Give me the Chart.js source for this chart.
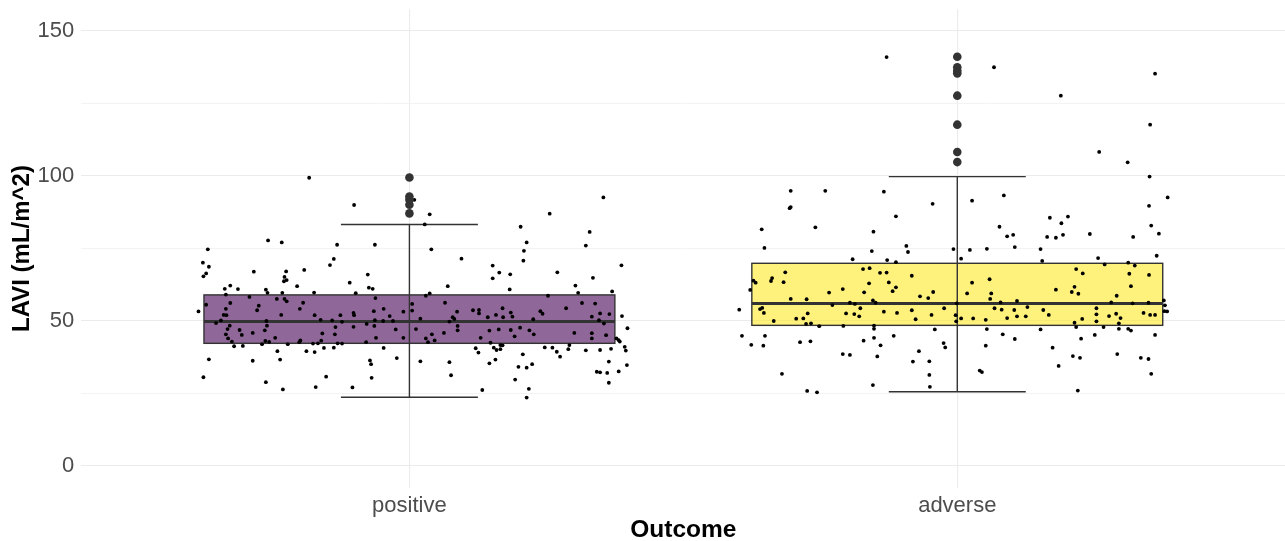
<!DOCTYPE html>
<html>
<head>
<meta charset="utf-8">
<script src="https://cdn.jsdelivr.net/npm/chart.js@4/dist/chart.umd.min.js"></script>
<style>
  html, body { margin: 0; padding: 0; background: #ffffff; overflow: hidden; }
  #wrap { width: 1286px; height: 541px; }
</style>
</head>
<body>
<div id="wrap"><canvas id="c" width="1286" height="541"></canvas></div>
<script>
// Outcome groups and the y-axis breaks
const categories = ['positive', 'adverse'];
const yBreaks = [0, 25, 50, 75, 100, 125, 150];
const yLabelledBreaks = [0, 50, 100, 150];

// Five-number summaries (LAVI, mL/m^2)
const whiskerLow = [23.7, 25.6];
const lowerQuartile = [42.3, 48.5];
const medianValue = [49.8, 56.0];
const upperQuartile = [59.0, 69.9];
const whiskerHigh = [83.3, 99.8];

// Values beyond the whiskers
const outliersPositive = [87.1, 90.1, 91.8, 92.9, 99.5];
const outliersAdverse = [104.8, 108.3, 117.7, 127.7, 135.4, 136.3, 137.5, 141.1];

// Individual patients: [horizontal jitter, LAVI]
const patientsPositive = [
  [-0.183, 99.4], [-0.101, 90.0], [-0.368, 74.7], [-0.377, 70.1], [-0.366, 68.7], [-0.371, 66.4],
  [-0.376, 65.4], [-0.258, 77.8], [-0.233, 77.1], [-0.132, 76.3], [-0.063, 76.3], [-0.138, 71.4],
  [-0.145, 69.3], [-0.284, 67.0], [-0.225, 67.1], [-0.192, 67.6], [-0.228, 65.2], [-0.224, 64.1],
  [-0.229, 63.7], [-0.076, 66.0], [-0.109, 63.2], [-0.205, 62.0], [-0.337, 61.1], [-0.327, 62.2],
  [-0.313, 61.0], [-0.262, 60.8], [-0.259, 59.7], [-0.232, 59.7], [-0.174, 59.8], [-0.098, 59.6],
  [-0.074, 61.5], [-0.067, 61.1], [-0.335, 59.1], [-0.292, 58.3], [-0.242, 57.6], [-0.228, 57.6],
  [-0.062, 57.9],
  [-0.371, 55.6], [-0.385, 53.3], [-0.335, 54.2], [-0.327, 56.2], [-0.275, 55.3], [-0.278, 53.7],
  [-0.224, 56.8], [-0.339, 52.1], [-0.334, 52.0], [-0.234, 52.1], [-0.200, 54.2], [-0.194, 56.3],
  [-0.173, 52.0], [-0.162, 50.4], [-0.141, 50.2], [-0.126, 52.0], [-0.123, 49.7], [-0.102, 52.8],
  [-0.101, 52.0], [-0.065, 53.4], [-0.047, 54.2], [-0.036, 51.7], [-0.011, 53.2], [-0.063, 50.3],
  [-0.048, 50.0], [-0.030, 50.0], [-0.078, 49.0], [-0.064, 48.3], [-0.102, 48.0], [-0.135, 47.9],
  [-0.353, 49.3], [-0.344, 50.2], [-0.328, 48.4], [-0.332, 47.2], [-0.260, 48.4], [-0.261, 50.0],
  [-0.310, 46.9], [-0.286, 45.9], [-0.264, 46.8], [-0.335, 45.4], [-0.306, 45.2], [-0.331, 44.0],
  [-0.324, 42.9], [-0.245, 44.2], [-0.263, 43.1], [-0.256, 42.8], [-0.199, 43.3], [-0.201, 42.7],
  [-0.159, 45.7], [-0.136, 45.4], [-0.161, 43.2], [-0.176, 42.2], [-0.167, 42.3], [-0.131, 42.3],
  [-0.123, 42.2], [-0.079, 42.7], [-0.061, 44.2], [-0.025, 47.1], [-0.011, 44.2], [-0.320, 41.3],
  [-0.304, 41.4], [-0.269, 42.0], [-0.222, 42.0], [-0.241, 39.6], [-0.188, 39.6], [-0.173, 39.3],
  [-0.156, 40.7], [-0.138, 40.8], [-0.047, 40.7], [-0.366, 36.8], [-0.286, 36.3], [-0.236, 36.7],
  [-0.072, 36.4], [-0.070, 35.1], [-0.023, 37.2], [-0.376, 30.6], [-0.262, 28.9], [-0.231, 26.4],
  [-0.152, 30.8], [-0.171, 27.2], [-0.104, 27.1], [-0.069, 30.4],
  [0.009, 91.8], [0.037, 86.8], [0.028, 83.3], [0.040, 74.7], [0.095, 71.5], [0.152, 69.1],
  [0.152, 64.7], [0.164, 66.7], [0.184, 66.1], [0.183, 60.9], [0.070, 62.0], [0.037, 59.5],
  [0.030, 58.7], [0.203, 82.5], [0.214, 77.1], [0.209, 74.2], [0.208, 70.8], [0.256, 87.0],
  [0.270, 66.8], [0.253, 58.7], [0.354, 92.6], [0.329, 80.7], [0.322, 76.0], [0.335, 64.9],
  [0.303, 62.2], [0.308, 59.7], [0.370, 60.2], [0.387, 69.2],
  [0.005, 55.9], [0.005, 53.6], [0.065, 56.3], [0.087, 53.2], [0.116, 53.7], [0.127, 53.8],
  [0.127, 52.6], [0.170, 54.4], [0.185, 52.9], [0.158, 52.1], [0.143, 51.3], [0.171, 51.3],
  [0.188, 51.5], [0.239, 53.4], [0.243, 52.5], [0.286, 54.4], [0.315, 56.2], [0.339, 56.0],
  [0.333, 51.5], [0.348, 52.6], [0.365, 52.4], [0.346, 50.3], [0.355, 49.1], [0.020, 50.8],
  [0.073, 49.8], [0.079, 51.3], [0.082, 50.7], [0.088, 48.3], [0.088, 46.8], [0.226, 50.6],
  [0.012, 47.2], [0.063, 45.9], [0.041, 45.4], [0.030, 44.0], [0.046, 43.3], [0.034, 42.7],
  [0.146, 46.7], [0.163, 47.1], [0.185, 46.9], [0.202, 47.7], [0.219, 46.8], [0.227, 45.4],
  [0.192, 44.7], [0.130, 44.2], [0.148, 42.5], [0.301, 45.9], [0.333, 45.8], [0.333, 44.0],
  [0.359, 45.1], [0.166, 41.7], [0.170, 41.6], [0.121, 40.6], [0.126, 39.1], [0.154, 40.8],
  [0.159, 40.0], [0.166, 40.3], [0.247, 40.9], [0.261, 40.8], [0.269, 39.4], [0.275, 37.7],
  [0.290, 40.3], [0.292, 41.7], [0.322, 39.9], [0.348, 40.0], [0.368, 40.4], [0.378, 44.0],
  [0.382, 43.4], [0.384, 42.9], [0.388, 51.7], [0.398, 47.5], [0.393, 41.1], [0.395, 39.8],
  [0.020, 36.1], [0.073, 35.8], [0.076, 31.3], [0.146, 35.4], [0.157, 36.7], [0.207, 38.5],
  [0.199, 34.2], [0.214, 33.9], [0.224, 35.1], [0.193, 29.8], [0.133, 26.2], [0.218, 26.6],
  [0.214, 23.6], [0.364, 36.0], [0.342, 32.5], [0.348, 32.3], [0.361, 32.1], [0.382, 32.6],
  [0.364, 28.7], [0.397, 34.8]
];

const patientsAdverse = [
  [-0.129, 141.0], [-0.304, 94.9], [-0.241, 94.9], [-0.134, 94.6], [-0.304, 89.3], [-0.306, 88.9],
  [-0.045, 90.4], [-0.112, 86.1], [-0.357, 81.6], [-0.259, 82.3], [-0.153, 80.8], [-0.352, 75.2],
  [-0.093, 75.9], [-0.090, 73.8], [-0.156, 74.1], [-0.007, 74.8], [-0.191, 71.3], [-0.128, 71.0],
  [-0.112, 70.3], [-0.372, 63.9], [-0.368, 63.2], [-0.378, 60.7], [-0.338, 64.8], [-0.340, 63.8],
  [-0.314, 66.8], [-0.317, 63.4], [-0.172, 67.9], [-0.160, 68.2], [-0.141, 66.6], [-0.129, 66.7],
  [-0.161, 63.0], [-0.125, 63.3], [-0.112, 61.6], [-0.118, 60.3], [-0.083, 65.6], [-0.209, 61.0],
  [-0.234, 59.8], [-0.170, 59.9], [-0.068, 58.5], [-0.053, 57.9], [-0.044, 60.0], [-0.304, 57.6],
  [-0.275, 57.5], [-0.154, 57.1], [-0.149, 56.3], [-0.196, 56.3], [-0.187, 55.9], [-0.228, 55.5],
  [-0.398, 53.9], [-0.360, 54.1], [-0.356, 54.5], [-0.353, 52.8], [-0.335, 50.0], [-0.294, 50.8],
  [-0.281, 50.9], [-0.273, 52.6], [-0.276, 49.0], [-0.267, 49.2], [-0.203, 52.6], [-0.188, 52.4],
  [-0.179, 51.6], [-0.177, 54.4], [-0.134, 53.2], [-0.110, 52.8], [-0.083, 53.7], [-0.076, 50.6],
  [-0.047, 52.1], [-0.024, 54.4], [-0.003, 52.0], [-0.002, 49.9], [-0.001, 56.1], [-0.208, 48.3],
  [-0.152, 48.4], [-0.152, 47.3], [-0.252, 48.2], [-0.393, 44.9], [-0.351, 44.9], [-0.376, 41.8],
  [-0.354, 41.5], [-0.287, 42.7], [-0.268, 43.0], [-0.171, 43.2], [-0.152, 44.2], [-0.116, 44.9],
  [-0.140, 41.6], [-0.041, 47.1], [-0.025, 42.4], [-0.022, 40.9], [-0.209, 38.6], [-0.196, 38.3],
  [-0.146, 37.8], [-0.070, 39.6], [-0.081, 36.0], [-0.051, 36.1], [-0.320, 31.8], [-0.051, 31.4],
  [-0.154, 27.9], [-0.050, 27.3], [-0.274, 25.9], [-0.256, 25.4],
  [0.067, 137.5], [0.361, 135.3], [0.189, 127.7], [0.352, 117.7], [0.259, 108.3], [0.311, 104.7],
  [0.351, 99.8], [0.384, 92.6], [0.350, 89.7], [0.027, 91.5], [0.085, 93.3], [0.077, 82.5],
  [0.091, 79.2], [0.102, 79.7], [0.105, 75.5], [0.054, 74.9], [0.023, 74.5], [0.169, 85.6],
  [0.190, 83.7], [0.202, 86.0], [0.164, 79.0], [0.180, 78.7], [0.193, 79.7], [0.242, 80.0],
  [0.321, 79.0], [0.354, 82.9], [0.368, 80.1], [0.152, 74.8], [0.257, 71.7], [0.364, 72.5],
  [0.007, 71.5],
  [0.155, 70.7], [0.269, 69.5], [0.312, 70.1], [0.324, 69.1], [0.217, 67.9], [0.229, 66.4],
  [0.314, 66.3], [0.350, 65.9], [0.059, 64.4], [0.027, 63.2], [0.018, 59.5], [0.062, 59.5],
  [0.060, 57.6], [0.180, 60.8], [0.214, 61.8], [0.209, 60.0], [0.221, 59.4], [0.317, 62.0],
  [0.291, 58.7], [0.079, 56.4], [0.109, 56.9], [0.281, 56.4], [0.320, 56.1], [0.349, 56.3],
  [0.377, 57.1], [0.379, 55.4], [0.068, 54.4], [0.081, 53.9], [0.104, 53.8], [0.128, 54.8],
  [0.157, 53.8], [0.167, 52.1], [0.254, 54.4], [0.254, 52.3], [0.254, 49.9], [0.290, 52.5],
  [0.298, 51.0], [0.295, 49.2], [0.340, 52.8], [0.352, 52.1], [0.361, 52.1], [0.378, 53.4],
  [0.383, 53.3], [0.007, 50.9], [0.029, 50.9], [0.052, 50.4], [0.091, 51.0], [0.109, 51.6],
  [0.125, 51.6], [0.214, 49.4], [0.217, 47.9], [0.228, 50.7], [0.277, 51.7], [0.267, 47.9],
  [0.295, 47.3], [0.312, 47.3], [0.317, 46.7], [0.054, 47.2], [0.152, 47.1], [0.083, 45.4],
  [0.105, 43.8], [0.226, 43.9], [0.251, 45.2], [0.361, 45.2], [0.052, 41.5], [0.174, 40.8],
  [0.292, 38.6], [0.211, 37.9], [0.224, 37.3], [0.335, 37.3], [0.349, 36.9], [0.185, 34.5],
  [0.041, 32.9], [0.045, 32.4], [0.354, 31.8], [0.220, 26.0]
];

// Drawing parameters
const BOX_WIDTH = 0.75;
const CAP_WIDTH = 0.25;
const boxFills = ['rgba(68, 1, 84, 0.6)', 'rgba(253, 231, 37, 0.6)'];
const INK = '#333333';
const FONT = '"Liberation Sans", Arial, sans-serif';

// Boxes, medians and whisker bars, drawn beneath the patient dots
const boxplotLayer = {
  id: 'boxplotLayer',
  beforeDatasetsDraw(chart) {
    const { ctx } = chart;
    const xs = chart.scales.x;
    const ys = chart.scales.y;
    ctx.save();
    categories.forEach((name, i) => {
      const pos = i + 1;
      const left = xs.getPixelForValue(pos - BOX_WIDTH / 2);
      const right = xs.getPixelForValue(pos + BOX_WIDTH / 2);
      const top = ys.getPixelForValue(upperQuartile[i]);
      const bottom = ys.getPixelForValue(lowerQuartile[i]);
      const mid = xs.getPixelForValue(pos);

      ctx.fillStyle = boxFills[i];
      ctx.fillRect(left, top, right - left, bottom - top);
      ctx.strokeStyle = INK;
      ctx.lineWidth = 1.4;
      ctx.strokeRect(left, top, right - left, bottom - top);

      // median
      const my = ys.getPixelForValue(medianValue[i]);
      ctx.lineWidth = 3;
      ctx.beginPath();
      ctx.moveTo(left, my);
      ctx.lineTo(right, my);
      ctx.stroke();

      // whisker bar with caps
      const capL = xs.getPixelForValue(pos - CAP_WIDTH / 2);
      const capR = xs.getPixelForValue(pos + CAP_WIDTH / 2);
      const lo = ys.getPixelForValue(whiskerLow[i]);
      const hi = ys.getPixelForValue(whiskerHigh[i]);
      ctx.lineWidth = 1.4;
      ctx.beginPath();
      ctx.moveTo(mid, lo); ctx.lineTo(mid, hi);
      ctx.moveTo(capL, lo); ctx.lineTo(capR, lo);
      ctx.moveTo(capL, hi); ctx.lineTo(capR, hi);
      ctx.stroke();
    });
    ctx.restore();
  }
};

const toPoints = (rows, pos) => rows.map(([dx, v]) => ({ x: pos + dx, y: v }));
const outlierPoints = [
  ...outliersPositive.map(v => ({ x: 1, y: v })),
  ...outliersAdverse.map(v => ({ x: 2, y: v }))
];

new Chart(document.getElementById('c'), {
  type: 'scatter',
  data: {
    datasets: [
      {
        label: 'outliers',
        data: outlierPoints,
        pointRadius: 4.3,
        pointHoverRadius: 4.3,
        pointBackgroundColor: INK,
        pointBorderWidth: 0
      },
      {
        label: categories[0],
        data: toPoints(patientsPositive, 1),
        pointRadius: 1.9,
        pointHoverRadius: 1.9,
        pointBackgroundColor: '#000000',
        pointBorderWidth: 0
      },
      {
        label: categories[1],
        data: toPoints(patientsAdverse, 2),
        pointRadius: 1.9,
        pointHoverRadius: 1.9,
        pointBackgroundColor: '#000000',
        pointBorderWidth: 0
      }
    ]
  },
  options: {
    responsive: false,
    animation: false,
    devicePixelRatio: 1,
    events: [],
    layout: { autoPadding: false, padding: { top: 9.25, left: 0, right: 0, bottom: 0 } },
    plugins: {
      legend: { display: false },
      tooltip: { enabled: false }
    },
    scales: {
      x: {
        type: 'linear',
        min: 0.4,
        max: 2.6,
        afterBuildTicks(scale) {
          scale.ticks = categories.map((_, i) => ({ value: i + 1 }));
        },
        afterFit(scale) {
          scale.height = 53.25;
          scale.paddingLeft = 0;
          scale.paddingRight = 0;
        },
        ticks: {
          callback: (v) => categories[v - 1] ?? '',
          color: '#4D4D4D',
          font: { family: FONT, size: 22 },
          padding: 4.8,
          maxRotation: 0,
          autoSkip: false
        },
        grid: { color: '#EBEBEB', lineWidth: 1.1, drawTicks: false },
        border: { display: false },
        title: {
          display: true,
          text: 'Outcome',
          color: '#000000',
          font: { family: FONT, size: 24.5, weight: 'bold', lineHeight: 1 },
          padding: { top: 0, bottom: -1 }
        }
      },
      y: {
        type: 'linear',
        min: -7.5,
        max: 157.5,
        afterBuildTicks(scale) {
          scale.ticks = yBreaks.map(v => ({ value: v }));
        },
        afterFit(scale) {
          scale.width = 80.7;
          scale.paddingTop = 0;
          scale.paddingBottom = 0;
        },
        ticks: {
          callback: (v) => yLabelledBreaks.includes(v) ? String(v) : '',
          color: '#4D4D4D',
          font: { family: FONT, size: 22 },
          padding: 6.5,
          autoSkip: false
        },
        grid: {
          color: (c) => yLabelledBreaks.includes(c.tick.value) ? '#EBEBEB' : '#F2F2F2',
          lineWidth: (c) => yLabelledBreaks.includes(c.tick.value) ? 1.1 : 0.9,
          drawTicks: false
        },
        border: { display: false },
        title: {
          display: true,
          text: 'LAVI (mL/m^2)',
          color: '#000000',
          font: { family: FONT, size: 24, weight: 'bold' },
          padding: { top: 7.5, bottom: 0 }
        }
      }
    }
  },
  plugins: [boxplotLayer]
});
</script>
</body>
</html>
